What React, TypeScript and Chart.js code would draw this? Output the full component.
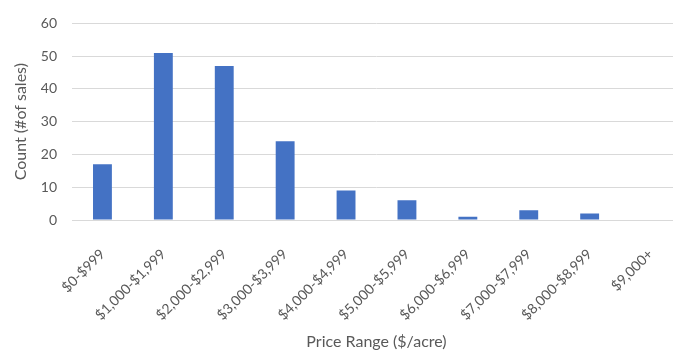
import React, { useEffect, useRef } from "react";
import { Chart, registerables } from "chart.js";

Chart.register(...registerables);

// Sales counts per price bracket
const priceRanges: string[] = [
  "$0-$999",
  "$1,000-$1,999",
  "$2,000-$2,999",
  "$3,000-$3,999",
  "$4,000-$4,999",
  "$5,000-$5,999",
  "$6,000-$6,999",
  "$7,000-$7,999",
  "$8,000-$8,999",
  "$9,000+",
];
const salesCounts: number[] = [17, 51, 47, 24, 9, 6, 1, 3, 2, 0];

const yTicks: number[] = [0, 10, 20, 30, 40, 50, 60];

const FONT = "Lato, 'Open Sans', sans-serif";
const TEXT = "#595959";

export default function App() {
  const canvasRef = useRef<HTMLCanvasElement | null>(null);

  useEffect(() => {
    const canvas = canvasRef.current;
    if (!canvas) return;
    const chart = new Chart(canvas, {
      type: "bar",
      data: {
        labels: priceRanges,
        datasets: [
          {
            label: "Count",
            data: salesCounts,
            backgroundColor: "#4472C4",
            borderWidth: 0,
            categoryPercentage: 1,
            barPercentage: 0.31,
          },
        ],
      },
      options: {
        responsive: false,
        animation: false,
        layout: { padding: { top: 16, right: 3, left: 0, bottom: 0 } },
        plugins: {
          legend: { display: false },
          tooltip: { enabled: false },
        },
        scales: {
          x: {
            grid: { display: false, drawTicks: false },
            border: { display: true, color: "#d9d9d9", width: 1 },
            ticks: {
              color: TEXT,
              font: { family: FONT, size: 14 },
              minRotation: 45,
              maxRotation: 45,
              autoSkip: false,
              padding: 26,
            },
            title: {
              display: true,
              text: "Price Range ($/acre)",
              color: TEXT,
              font: { family: FONT, size: 16 },
              padding: { top: 4, bottom: 2 },
            },
            afterFit: (s: any) => {
              s.height = 133;
              s.paddingLeft = 0;
              s.paddingRight = 0;
            },
          },
          y: {
            min: 0,
            max: 60,
            afterBuildTicks: (s: any) => {
              s.ticks = yTicks.map((v) => ({ value: v }));
            },
            grid: { color: "#d9d9d9", lineWidth: 1, drawTicks: false },
            border: { display: false },
            ticks: {
              color: TEXT,
              font: { family: FONT, size: 14 },
              padding: 15,
            },
            title: {
              display: true,
              text: "Count (#of sales)",
              color: TEXT,
              font: { family: FONT, size: 16 },
              padding: { top: 11, bottom: 0 },
            },
            afterFit: (s: any) => {
              s.width = 72;
            },
          },
        },
      },
    });
    return () => chart.destroy();
  }, []);

  return (
    <div
      style={{
        position: "fixed",
        left: 0,
        top: 0,
        width: 684,
        height: 353,
        background: "#ffffff",
      }}
    >
      <canvas ref={canvasRef} width={684} height={353} />
    </div>
  );
}
